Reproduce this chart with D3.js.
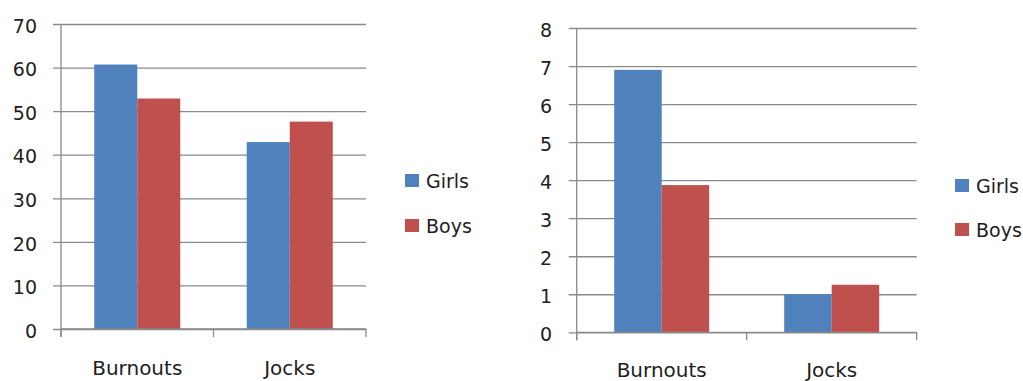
<!DOCTYPE html>
<html>
<head>
<meta charset="utf-8">
<script src="https://cdn.jsdelivr.net/npm/d3@7"></script>
<style>
  html, body { margin: 0; padding: 0; background: #fff; }
  svg { display: block; }
  text { font-family: "DejaVu Sans", sans-serif; fill: #1e1e1e; }
</style>
</head>
<body>
<svg id="chart" width="1023" height="381"></svg>
<script>
// ---- data ----
const categories = ["Burnouts", "Jocks"];
const seriesNames = ["Girls", "Boys"];
const leftGirls = [60.7, 42.9];
const leftBoys = [52.9, 47.6];
const leftTicks = [0, 10, 20, 30, 40, 50, 60, 70];
const rightGirls = [6.9, 1.0];
const rightBoys = [3.87, 1.25];
const rightTicks = [0, 1, 2, 3, 4, 5, 6, 7, 8];

const colors = { Girls: "#4F81BD", Boys: "#C0504D" };
const gridColor = "#8a8a8a";

const svg = d3.select("#chart");

function drawChart(cfg) {
  const g = svg.append("g");
  const x = d3.scaleBand().domain(categories).range([cfg.x0, cfg.x1]).padding(0);
  const xs = d3.scaleBand().domain(seriesNames).range([0, x.bandwidth()])
    .paddingInner(0).paddingOuter(cfg.outerPad);
  const y = d3.scaleLinear().domain([0, d3.max(cfg.ticks)]).range([cfg.y0, cfg.y1]);

  // gridlines + tick labels
  const yAxis = d3.axisLeft(y).tickValues(cfg.ticks).tickSize(cfg.x1 - cfg.x0 + 8).tickPadding(cfg.labelPad);
  const ga = g.append("g").attr("transform", `translate(${cfg.x1},0)`).call(yAxis);
  ga.select(".domain").remove();
  ga.selectAll(".tick line").attr("stroke", gridColor).attr("stroke-width", 1.3);
  ga.selectAll(".tick text").style("font-size", "19px").attr("dy", "0.43em").attr("fill", "#1e1e1e");

  // bars
  const rows = categories.map((c, i) => ({ cat: c, Girls: cfg.girls[i], Boys: cfg.boys[i] }));
  const grp = g.selectAll("g.cat").data(rows).join("g").attr("class", "cat")
    .attr("transform", d => `translate(${x(d.cat)},0)`);
  grp.selectAll("rect").data(d => seriesNames.map(s => ({ s, v: d[s] }))).join("rect")
    .attr("x", d => xs(d.s))
    .attr("width", xs.bandwidth())
    .attr("y", d => y(d.v))
    .attr("height", d => y(0) - y(d.v))
    .attr("fill", d => colors[d.s]);

  // vertical axis line
  g.append("line").attr("x1", cfg.x0).attr("x2", cfg.x0)
    .attr("y1", y(d3.max(cfg.ticks))).attr("y2", y(0) + 8)
    .attr("stroke", gridColor).attr("stroke-width", 1.3);
  // horizontal axis line
  g.append("line").attr("x1", cfg.x0).attr("x2", cfg.x1)
    .attr("y1", y(0)).attr("y2", y(0))
    .attr("stroke", gridColor).attr("stroke-width", 1.3);
  // category boundary ticks
  const bounds = categories.map(c => x(c)).concat([cfg.x1]);
  g.selectAll("line.ctick").data(bounds).join("line").attr("class", "ctick")
    .attr("x1", d => d).attr("x2", d => d)
    .attr("y1", y(0)).attr("y2", y(0) + 8)
    .attr("stroke", gridColor).attr("stroke-width", 1.3);
  // category labels
  g.selectAll("text.clab").data(categories).join("text").attr("class", "clab")
    .attr("x", d => x(d) + x.bandwidth() / 2)
    .attr("y", y(0) + cfg.labelDy)
    .attr("text-anchor", "middle")
    .style("font-size", "20px")
    .text(d => d);

  // legend
  const lg = g.append("g").attr("transform", `translate(${cfg.legX},${cfg.legY})`);
  const li = lg.selectAll("g").data(seriesNames).join("g")
    .attr("transform", (d, i) => `translate(0,${i * cfg.legStep})`);
  li.append("rect").attr("x", 0).attr("y", 0).attr("width", 14).attr("height", 13)
    .attr("fill", d => colors[d]);
  li.append("text").attr("x", 21).attr("y", 14).style("font-size", "19px").text(d => d);
}

drawChart({ x0: 61, x1: 366, y0: 329, y1: 24, ticks: leftTicks, girls: leftGirls, boys: leftBoys,
  outerPad: 0.773, labelPad: 16, labelDy: 46, legX: 405, legY: 174, legStep: 45 });
drawChart({ x0: 576.7, x1: 916.7, y0: 332.3, y1: 28, ticks: rightTicks, girls: rightGirls, boys: rightBoys,
  outerPad: 0.79, labelPad: 16.5, labelDy: 44.5, legX: 955, legY: 179, legStep: 44 });
</script>
</body>
</html>
